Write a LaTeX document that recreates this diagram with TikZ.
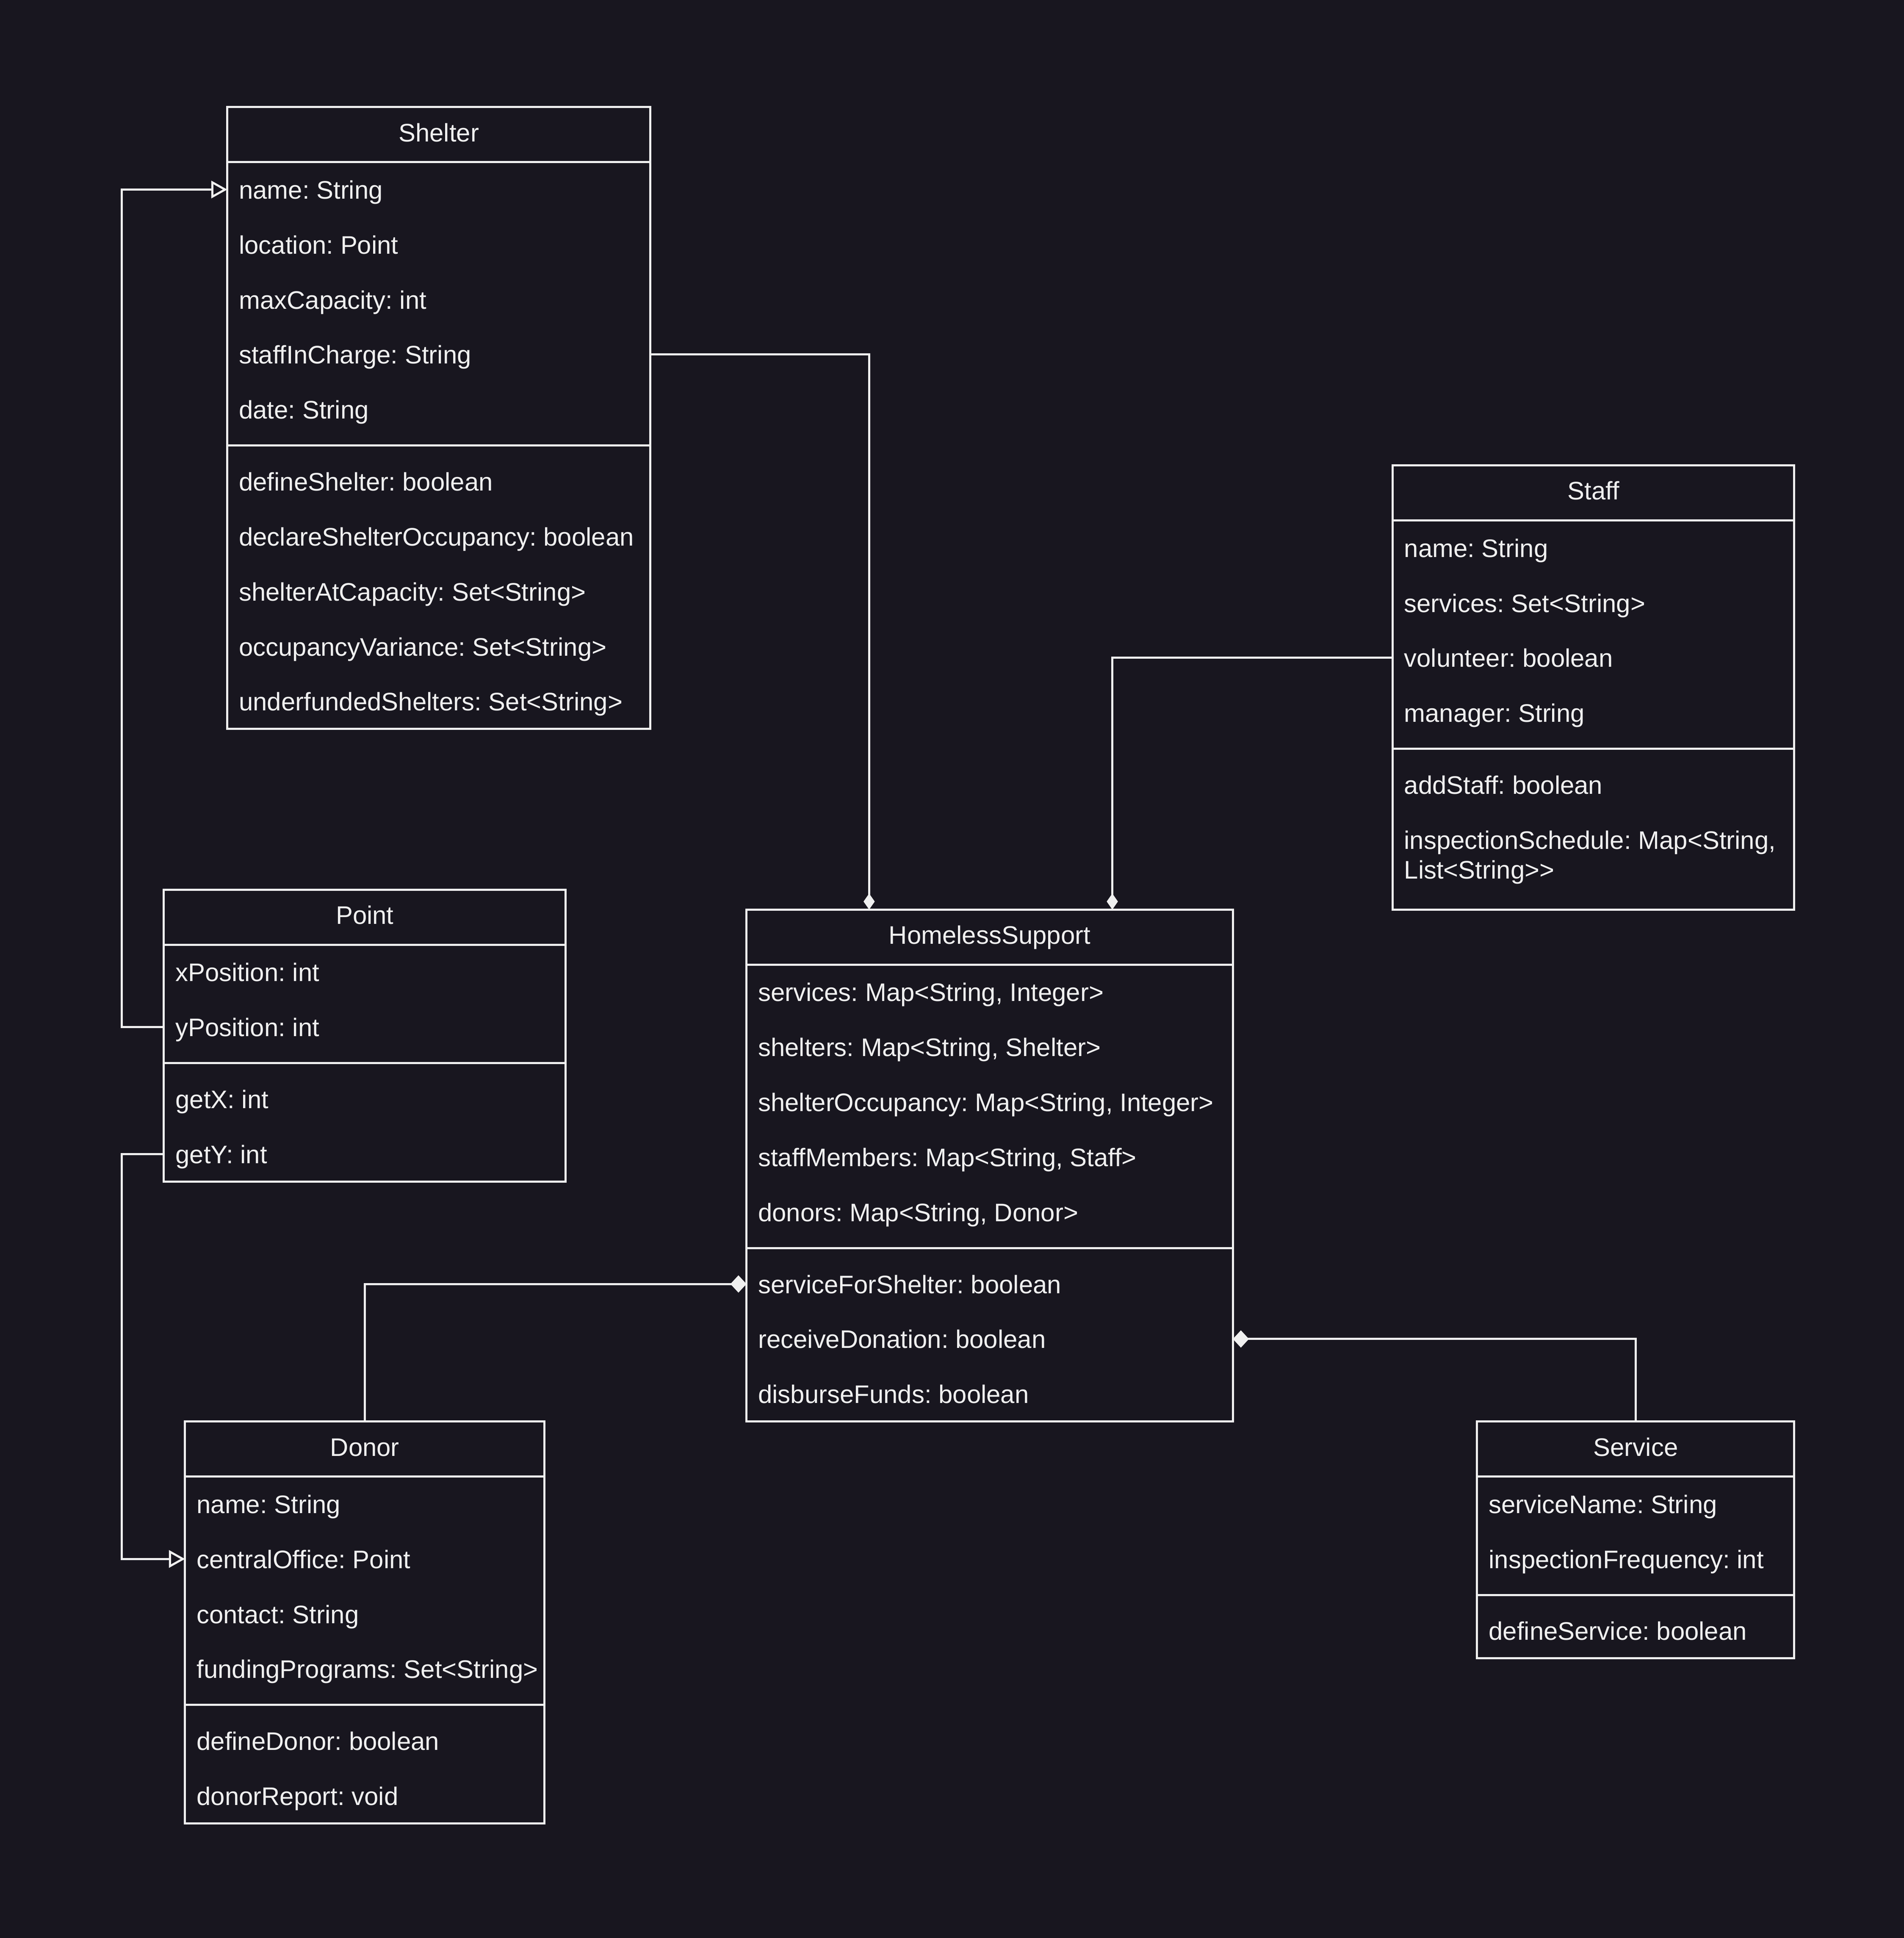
\documentclass[tikz,border=0pt]{standalone}
\usepackage{fontspec}
\setmainfont{Liberation Sans}
\usetikzlibrary{arrows.meta,calc}
\frenchspacing

\definecolor{bgdark}{HTML}{18161F}
\definecolor{umlline}{HTML}{F0F0F0}

\tikzset{
  classline/.style={draw=umlline, line width=1pt},
  classhead/.style={classline, inner sep=0pt, outer sep=0pt, minimum height=26pt, text height=10pt, text depth=3.4pt, text=umlline},
  member/.style={anchor=west, inner xsep=5.5pt, inner ysep=0pt, outer sep=0pt, minimum height=26pt, text height=12pt, text depth=3.2pt, text=umlline},
  assoc/.style={draw=umlline, line width=1pt},
  inherit/.style={assoc, -{Triangle[open, length=7.6pt, width=8.2pt]}},
  compose/.style={assoc, -{Diamond[length=7.6pt, width=8.2pt]}},
  composethin/.style={assoc, -{Diamond[length=7.6pt, width=5.3pt]}},
}

\begin{document}
\begin{tikzpicture}[x=1pt,y=1pt,yscale=-1,xscale=1,font=\fontsize{12pt}{14pt}\selectfont]
%set diagram page, dark background
\useasboundingbox (0,0) rectangle (900.2,916.2);
\fill[bgdark] (-2,-2) rectangle (902.2,918.2);

%Shape: Class [Shelter]
\node[classhead, minimum width=200pt] (shelter) at (207.5,63.6) {Shelter};
\draw[classline] (107.5,76.6) rectangle (307.5,344.6);
\draw[classline] (107.5,210.6) -- (307.5,210.6);
% Text Node
\node[member] (shelterName) at (107.5,89.6) {name: String};
\node[member] (shelterLoc) at (107.5,115.6) {location: Point};
\node[member] (shelterMax) at (107.5,141.6) {maxCapacity: int};
\node[member] (shelterStaff) at (107.5,167.6) {staffInCharge: String};
\node[member] (shelterDate) at (107.5,193.6) {date: String};
\node[member] (shelterDefine) at (107.5,227.6) {defineShelter: boolean};
\node[member] (shelterDeclare) at (107.5,253.6) {declareShelterOccupancy: boolean};
\node[member] (shelterAtCap) at (107.5,279.6) {shelterAtCapacity: Set<String>};
\node[member] (shelterVar) at (107.5,305.6) {occupancyVariance: Set<String>};
\node[member] (shelterUnder) at (107.5,331.6) {underfundedShelters: Set<String>};

%Shape: Class [Staff]
\node[classhead, minimum width=190pt] (staff) at (753.5,233) {Staff};
\draw[classline] (658.5,246) rectangle (848.5,430);
\draw[classline] (658.5,354) -- (848.5,354);
% Text Node
\node[member] (staffName) at (658.5,259) {name: String};
\node[member] (staffServices) at (658.5,285) {services: Set<String>};
\node[member] (staffVol) at (658.5,311) {volunteer: boolean};
\node[member] (staffManager) at (658.5,337) {manager: String};
\node[member] (staffAdd) at (658.5,371) {addStaff: boolean};
\node[member] (staffSchedA) at (658.5,397) {inspectionSchedule: Map<String,};
\node[member] (staffSchedB) at (658.5,411) {List<String>{}>};

%Shape: Class [Point]
\node[classhead, minimum width=190pt] (point) at (172.5,433.6) {Point};
\draw[classline] (77.5,446.6) rectangle (267.5,558.6);
\draw[classline] (77.5,502.6) -- (267.5,502.6);
% Text Node
\node[member] (pointXpos) at (77.5,459.6) {xPosition: int};
\node[member] (pointYpos) at (77.5,485.6) {yPosition: int};
\node[member] (pointGetX) at (77.5,519.6) {getX: int};
\node[member] (pointGetY) at (77.5,545.6) {getY: int};

%Shape: Class [HomelessSupport]
\node[classhead, minimum width=230pt] (hs) at (468,443) {HomelessSupport};
\draw[classline] (353,456) rectangle (583,672);
\draw[classline] (353,590) -- (583,590);
% Text Node
\node[member] (hsServices) at (353,469) {services: Map<String, Integer>};
\node[member] (hsShelters) at (353,495) {shelters: Map<String, Shelter>};
\node[member] (hsOccupancy) at (353,521) {shelterOccupancy: Map<String, Integer>};
\node[member] (hsStaff) at (353,547) {staffMembers: Map<String, Staff>};
\node[member] (hsDonors) at (353,573) {donors: Map<String, Donor>};
\node[member] (hsService) at (353,607) {serviceForShelter: boolean};
\node[member] (hsDonation) at (353,633) {receiveDonation: boolean};
\node[member] (hsDisburse) at (353,659) {disburseFunds: boolean};

%Shape: Class [Donor]
\node[classhead, minimum width=170pt] (donor) at (172.5,685) {Donor};
\draw[classline] (87.5,698) rectangle (257.5,862);
\draw[classline] (87.5,806) -- (257.5,806);
% Text Node
\node[member] (donorName) at (87.5,711) {name: String};
\node[member] (donorOffice) at (87.5,737) {centralOffice: Point};
\node[member] (donorContact) at (87.5,763) {contact: String};
\node[member] (donorFunding) at (87.5,789) {fundingPrograms: Set<String>};
\node[member] (donorDefine) at (87.5,823) {defineDonor: boolean};
\node[member] (donorReport) at (87.5,849) {donorReport: void};

%Shape: Class [Service]
\node[classhead, minimum width=150pt] (service) at (773.5,685) {Service};
\draw[classline] (698.5,698) rectangle (848.5,784);
\draw[classline] (698.5,754) -- (848.5,754);
% Text Node
\node[member] (serviceName) at (698.5,711) {serviceName: String};
\node[member] (serviceFreq) at (698.5,737) {inspectionFrequency: int};
\node[member] (serviceDefine) at (698.5,771) {defineService: boolean};

%Connector Lines
\draw[inherit] (pointYpos.west) -- ++(-20,0) |- (shelterName.west);
\draw[inherit] (pointGetY.west) -- ++(-20,0) |- (donorOffice.west);
\draw[composethin] (shelterStaff -| shelter.east) -| ($(hs.north west)+(58,0)$);
\draw[composethin] (staffVol.west) -| ($(hs.north west)+(173,0)$);
\draw[compose] (donor.north) |- (hsService.west);
\draw[compose] (service.north) |- (hsDonation -| hs.east);

\end{tikzpicture}
\end{document}
